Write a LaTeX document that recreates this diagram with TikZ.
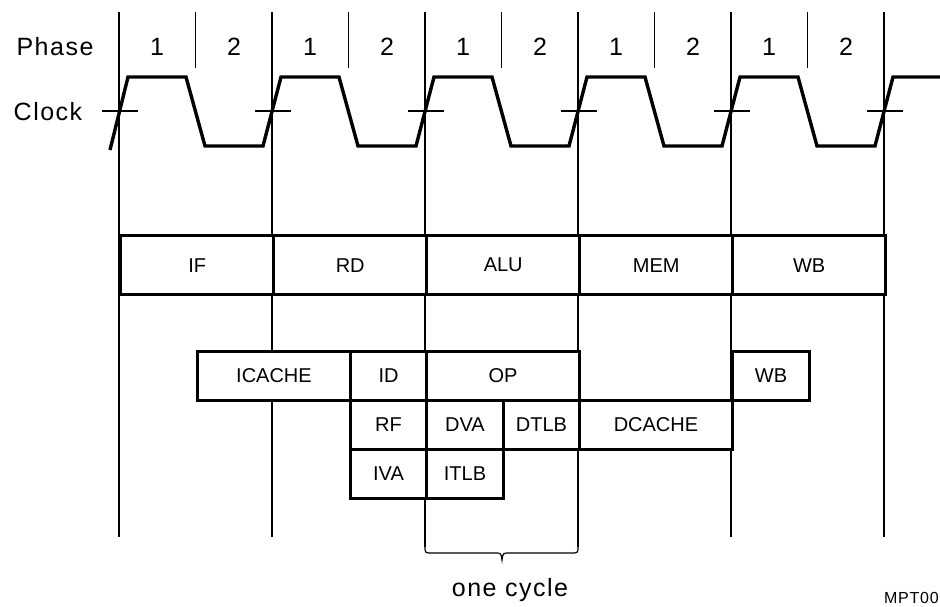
\documentclass[tikz,border=0pt]{standalone}
\usepackage{fontspec}
\setmainfont{Liberation Sans}
\begin{document}
\begin{tikzpicture}[x=1pt,y=-1pt,
  thinline/.style={line width=1.2pt},
  wave/.style={line width=3.4pt, line join=miter},
  stage/.style={draw, fill=white, line width=3.4pt, anchor=north west, minimum height=59pt, minimum width=153pt, inner sep=0pt, font=\fontsize{20}{24}\selectfont},
  sub/.style={draw, fill=white, line width=3pt, anchor=north west, minimum height=49pt, inner sep=0pt, font=\fontsize{20}{24}\selectfont},
  big/.style={inner sep=0pt, font=\fontsize{25}{30}\selectfont\addfontfeature{LetterSpace=6}},
  small/.style={inner sep=0pt, font=\fontsize{16}{19}\selectfont\addfontfeature{LetterSpace=5}}]
\useasboundingbox (0,0) rectangle (940,606);

% cycle boundaries and phase lines
\foreach \X/\e in {119/537,272/537,425/547,578/547,731/537,884/537}{
  \draw[thinline] (\X,12) -- (\X,\e);
}
\foreach \X in {195.5,348.5,501.5,654.5,807.5}{
  \draw[thinline] (\X,12) -- (\X,68);
}

% labels
\node[big] (phase) at (55,47) {Phase};
\node[big] (clock) at (48,112) {Clock};
\foreach \X [count=\i] in {119,272,425,578,731}{
  \node[big] (p1-\i) at (\X+38,47) {1};
  \node[big] (p2-\i) at (\X+115,47) {2};
}

% clock waveform
\draw[wave] (110,150) -- (128,77) -- (186,77) -- (205,146) -- (263,146)
  -- (281,77) -- (339,77) -- (358,146) -- (416,146)
  -- (434,77) -- (492,77) -- (511,146) -- (569,146)
  -- (587,77) -- (645,77) -- (664,146) -- (722,146)
  -- (740,77) -- (798,77) -- (817,146) -- (875,146)
  -- (893,77) -- (940,77);
\foreach \X in {119,272,425,578,731,884}{
  \draw[thinline] (\X-17,111) -- (\X+19,111);
}

% pipeline stages
\node[stage] (IF)  at (119,234) {IF};
\node[stage] (RD)  at (272,234) {RD};
\node[stage] (ALU) at (425,234) {ALU};
\node[stage] (MEM) at (578,234) {MEM};
\node[stage] (WB)  at (731,234) {WB};

% sub-stages
\node[sub, minimum width=153pt] (icache) at (196,350) {ICACHE};
\node[sub, minimum width=76pt]  (id)     at (349,350) {ID};
\node[sub, minimum width=153pt] (op)     at (425,350) {OP};
\node[sub, minimum width=77pt]  (wb2)    at (731,350) {WB};
\node[sub, minimum width=76pt]  (rf)     at (349,399) {RF};
\node[sub, minimum width=77pt]  (dva)    at (425,399) {DVA};
\node[sub, minimum width=76pt]  (dtlb)   at (502,399) {DTLB};
\node[sub, minimum width=153pt] (dcache) at (578,399) {DCACHE};
\node[sub, minimum width=76pt]  (iva)    at (349,448) {IVA};
\node[sub, minimum width=77pt]  (itlb)   at (425,448) {ITLB};

% brace
\coordinate (bl) at (425,547);
\coordinate (br) at (578,547);
\draw[thinline] (bl) .. controls (425,553) .. (433,553) -- (495,553)
  .. controls (501,553) .. (502,560) .. controls (503,553) .. (509,553)
  -- (570,553) .. controls (578,553) .. (br);
\node[big, anchor=base] (cyc) at (510,596) {one cycle};
\node[small, anchor=base east] (mpt) at (939,603) {MPT00};
\end{tikzpicture}
\end{document}
